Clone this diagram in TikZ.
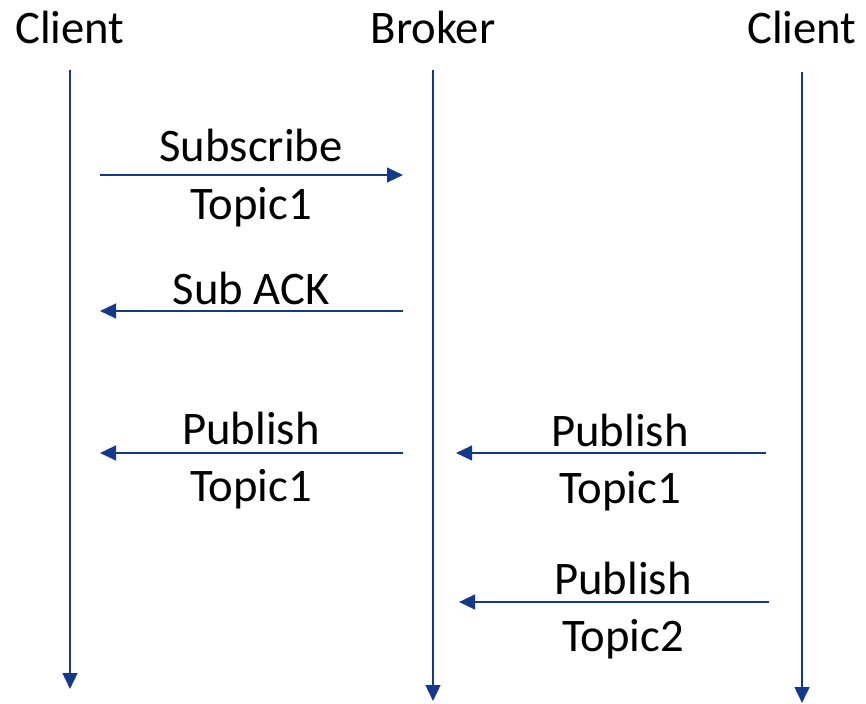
\documentclass[tikz,border=0pt]{standalone}
\usepackage{fontspec}
\setmainfont{Carlito}
\usetikzlibrary{arrows.meta}
\definecolor{seqblue}{HTML}{12398A}
\tikzset{
  life/.style={draw=seqblue, line width=1.9pt, -{Triangle[length=12pt,width=11pt]}},
  msg/.style={draw=seqblue, line width=1.7pt, -{Triangle[length=12pt,width=11pt]}},
  lbl/.style={anchor=base, inner sep=0pt, font=\fontsize{35}{42}\selectfont, text=black}
}
\begin{document}
\begin{tikzpicture}[x=0.75pt,y=-0.75pt]
\useasboundingbox (0,0) rectangle (866,703);
% titles
\node[lbl] (c1) at (70,43) {Client};
\node[lbl] (br) at (433,43) {Broker};
\node[lbl] (c2) at (802,43) {Client};
% lifelines
\coordinate (c1t) at (70,70);  \coordinate (c1b) at (70,689);
\coordinate (brt) at (433,70); \coordinate (brb) at (433,701);
\coordinate (c2t) at (802,72); \coordinate (c2b) at (802,703);
\draw[life] (c1t) -- (c1b);
\draw[life] (brt) -- (brb);
\draw[life] (c2t) -- (c2b);
% messages
\coordinate (m1a) at (100,175); \coordinate (m1b) at (403,175);
\draw[msg] (m1a) -- (m1b);
\node[lbl] (t1a) at (251,161) {Subscribe};
\node[lbl] (t1b) at (251,219) {Topic1};

\coordinate (m2a) at (403,311); \coordinate (m2b) at (100,311);
\draw[msg] (m2a) -- (m2b);
\node[lbl] (t2a) at (251,304) {Sub ACK};

\coordinate (m3a) at (403,453); \coordinate (m3b) at (100,453);
\draw[msg] (m3a) -- (m3b);
\node[lbl] (t3a) at (251,444) {Publish};
\node[lbl] (t3b) at (251,501) {Topic1};

\coordinate (m4a) at (766,453); \coordinate (m4b) at (456,453);
\draw[msg] (m4a) -- (m4b);
\node[lbl] (t4a) at (620,446) {Publish};
\node[lbl] (t4b) at (620,503) {Topic1};

\coordinate (m5a) at (769,602); \coordinate (m5b) at (459,602);
\draw[msg] (m5a) -- (m5b);
\node[lbl] (t5a) at (623,594) {Publish};
\node[lbl] (t5b) at (623,651) {Topic2};
\end{tikzpicture}
\end{document}
